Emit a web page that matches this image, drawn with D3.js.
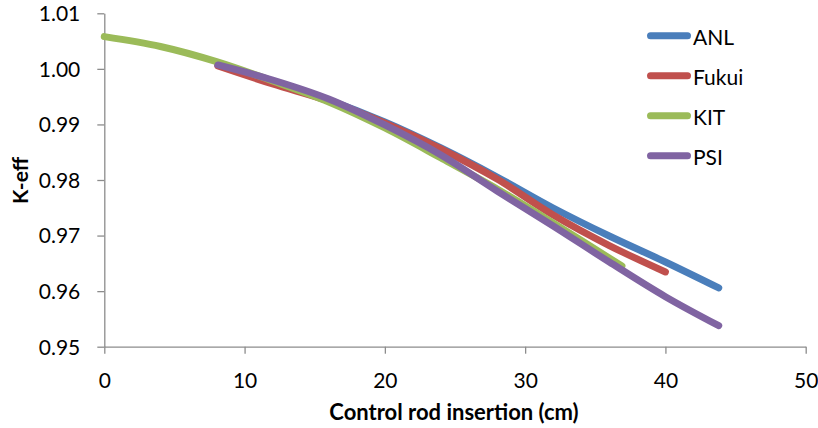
<!DOCTYPE html>
<html>
<head>
<meta charset="utf-8">
<script src="https://cdn.jsdelivr.net/npm/d3@7/dist/d3.min.js"></script>
<style>
  body { margin: 0; background: #fff; }
  svg text { font-family: Lato, "Open Sans", sans-serif; fill: #000; }
  .axis path, .axis line { stroke: #8c8c8c; stroke-width: 1.3; }
</style>
</head>
<body>
<div id="chart"></div>
<script>
// insertion depths (cm) and k-eff per code
let anlX = [8.1, 12, 16, 20, 24, 28, 32, 36, 40, 43.8];
let anlY = [1.0007, 0.99764, 0.9944, 0.99044, 0.98576, 0.98054, 0.97496, 0.96992, 0.96524, 0.96057];

let fukuiX = [8.1, 12, 16, 20, 24, 28, 32, 36, 40];
let fukuiY = [1.00052, 0.99728, 0.99422, 0.99026, 0.98558, 0.98018, 0.9737, 0.96821, 0.96345];

let kitX = [0, 4, 8, 12, 16, 20, 24, 28, 32, 36.9];
let kitY = [1.0058, 1.00403, 1.0013, 0.99782, 0.99404, 0.98936, 0.98396, 0.97838, 0.97226, 0.96452];

let psiX = [8.1, 12, 16, 20, 24, 28, 32, 36, 40, 43.8];
let psiY = [1.0007, 0.998, 0.99458, 0.9899, 0.9845, 0.97802, 0.97172, 0.96524, 0.959, 0.95378];

let seriesNames = ['ANL', 'Fukui', 'KIT', 'PSI'];
let seriesColors = ['#4a7ebb', '#c0504d', '#9bbb59', '#8064a2'];
let xTicks = [0, 10, 20, 30, 40, 50];
let yTicks = [0.95, 0.96, 0.97, 0.98, 0.99, 1.00, 1.01];

let width = 818;
let height = 428;

let series = [
  { name: 'ANL', xs: anlX, ys: anlY },
  { name: 'Fukui', xs: fukuiX, ys: fukuiY },
  { name: 'KIT', xs: kitX, ys: kitY },
  { name: 'PSI', xs: psiX, ys: psiY }
];

let svg = d3.select('#chart').append('svg')
  .attr('width', width)
  .attr('height', height);

let x = d3.scaleLinear().domain([0, 50]).range([104.3, 805.7]);
let y = d3.scaleLinear().domain([0.95, 1.01]).range([346.7, 13.3]);

// axes
let xAxis = svg.append('g')
  .classed('axis', true)
  .attr('transform', `translate(0,${y(0.95)})`)
  .call(d3.axisBottom(x).tickValues(xTicks).tickSize(7).tickSizeOuter(0).tickFormat(d3.format('d')));
xAxis.selectAll('text')
  .attr('y', 34)
  .attr('dy', '0.35em')
  .style('font-size', '21px');

let yAxis = svg.append('g')
  .classed('axis', true)
  .attr('transform', `translate(${x(0)},0)`)
  .call(d3.axisLeft(y).tickValues(yTicks).tickSize(7).tickSizeOuter(0).tickPadding(17).tickFormat(d3.format('.2f')));
yAxis.selectAll('text')
  .attr('dy', '0.35em')
  .style('font-size', '21px');

// lines (smoothed like the spreadsheet original)
let line = d3.line()
  .x(d => x(d[0]))
  .y(d => y(d[1]))
  .curve(d3.curveCatmullRom.alpha(0.5));

svg.append('g')
  .selectAll('path')
  .data(series)
  .enter()
  .append('path')
  .attr('d', s => line(s.xs.map((v, i) => [v, s.ys[i]])))
  .style('fill', 'none')
  .style('stroke', (s, i) => seriesColors[i])
  .style('stroke-width', 7)
  .style('stroke-linecap', 'round')
  .style('stroke-linejoin', 'round');

// legend
let legend = svg.append('g')
  .selectAll('g')
  .data(seriesNames)
  .enter()
  .append('g')
  .attr('transform', (d, i) => `translate(0,${35.7 + i * 40})`);

legend.append('line')
  .attr('x1', 650.5)
  .attr('x2', 687.5)
  .style('stroke', (d, i) => seriesColors[i])
  .style('stroke-width', 7)
  .style('stroke-linecap', 'round');

legend.append('text')
  .attr('x', 693)
  .attr('dy', '0.42em')
  .style('font-size', '21px')
  .text(d => d);

// axis titles
svg.append('text')
  .attr('x', 454)
  .attr('y', 420)
  .attr('text-anchor', 'middle')
  .style('font-size', '22px')
  .style('font-weight', 'bold')
  .text('Control rod insertion (cm)');

svg.append('text')
  .attr('transform', 'translate(28,180.5) rotate(-90)')
  .attr('text-anchor', 'middle')
  .style('font-size', '21px')
  .style('font-weight', 'bold')
  .text('K-eff');
</script>
</body>
</html>
